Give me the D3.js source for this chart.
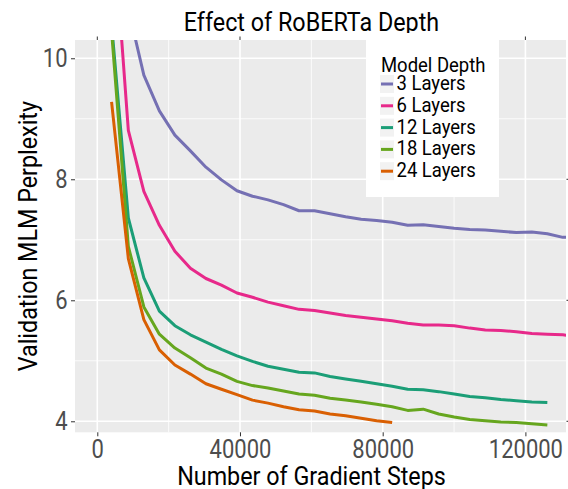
<!DOCTYPE html>
<html>
<head>
<meta charset="utf-8">
<script src="https://cdn.jsdelivr.net/npm/d3@7"></script>
<style>
  html, body { margin: 0; padding: 0; background: #fff; }
  svg { display: block; font-family: Roboto, "Noto Sans", sans-serif; }
</style>
</head>
<body>
<svg id="chart" width="568" height="489"></svg>
<script>
// ---- data ----
const steps = [4000, 8700, 13050, 17400, 21750, 26100, 30450, 34800, 39150, 43500,
  47850, 52200, 56550, 60900, 65250, 69600, 73950, 78300, 82650, 87000,
  91350, 95700, 100050, 104400, 108750, 113100, 117450, 121800, 126150, 130500, 134850];

const layers3 = [13.5, 10.82, 9.72, 9.13, 8.73, 8.47, 8.20, 7.99, 7.81, 7.72, 7.66, 7.58,
  7.48, 7.48, 7.43, 7.38, 7.34, 7.32, 7.29, 7.24, 7.25, 7.22, 7.19, 7.17, 7.16, 7.14,
  7.12, 7.13, 7.10, 7.04, 7.04];
const layers6 = [12.58, 8.81, 7.80, 7.24, 6.81, 6.53, 6.36, 6.25, 6.12, 6.05, 5.97, 5.91,
  5.85, 5.83, 5.79, 5.75, 5.72, 5.69, 5.66, 5.62, 5.59, 5.59, 5.58, 5.54, 5.51, 5.50,
  5.48, 5.45, 5.44, 5.43, 5.40];
const layers12 = [10.57, 7.36, 6.37, 5.82, 5.58, 5.43, 5.31, 5.19, 5.08, 4.99, 4.91, 4.86,
  4.81, 4.80, 4.74, 4.70, 4.66, 4.62, 4.58, 4.53, 4.52, 4.49, 4.45, 4.41, 4.39, 4.36,
  4.34, 4.32, 4.31];
const layers18 = [10.45, 6.89, 5.89, 5.44, 5.21, 5.05, 4.88, 4.78, 4.66, 4.59, 4.55, 4.50,
  4.45, 4.43, 4.38, 4.35, 4.32, 4.28, 4.24, 4.18, 4.20, 4.12, 4.07, 4.03, 4.01, 3.99,
  3.98, 3.96, 3.94];
const layers24 = [9.28, 6.69, 5.68, 5.18, 4.93, 4.78, 4.62, 4.53, 4.44, 4.35, 4.30, 4.24,
  4.19, 4.17, 4.12, 4.09, 4.05, 4.01, 3.98];

const seriesNames = ["3 Layers", "6 Layers", "12 Layers", "18 Layers", "24 Layers"];
const seriesValues = [layers3, layers6, layers12, layers18, layers24];
const seriesColors = ["#7570B3", "#E7298A", "#1B9E77", "#66A61E", "#D95F02"];

const xTicks = [0, 40000, 80000, 120000];
const xMinor = [20000, 60000, 100000];
const yTicks = [4, 6, 8, 10];
const yMinor = [5, 7, 9];

const titleText = "Effect of RoBERTa Depth";
const xTitle = "Number of Gradient Steps";
const yTitle = "Validation MLM Perplexity";
const legendTitle = "Model Depth";

// ---- layout ----
const panel = { left: 75, right: 566, top: 40, bottom: 432.3 };
const condense = 0.88;   // emulate a condensed face
const svg = d3.select("#chart");

const x = d3.scaleLinear().domain([-6250, 131380]).range([panel.left, panel.right]);
const y = d3.scaleLinear().domain([3.818, 10.302]).range([panel.bottom, panel.top]);

// panel background
svg.append("rect")
  .attr("x", panel.left).attr("y", panel.top)
  .attr("width", panel.right - panel.left).attr("height", panel.bottom - panel.top)
  .attr("fill", "#EBEBEB");

// grid
const grid = svg.append("g");
grid.selectAll(".xminor").data(xMinor).enter().append("line")
  .attr("x1", d => x(d)).attr("x2", d => x(d))
  .attr("y1", panel.top).attr("y2", panel.bottom)
  .attr("stroke", "#fff").attr("stroke-width", 0.8);
grid.selectAll(".yminor").data(yMinor).enter().append("line")
  .attr("y1", d => y(d)).attr("y2", d => y(d))
  .attr("x1", panel.left).attr("x2", panel.right)
  .attr("stroke", "#fff").attr("stroke-width", 0.8);
grid.selectAll(".xmajor").data(xTicks).enter().append("line")
  .attr("x1", d => x(d)).attr("x2", d => x(d))
  .attr("y1", panel.top).attr("y2", panel.bottom)
  .attr("stroke", "#fff").attr("stroke-width", 1.6);
grid.selectAll(".ymajor").data(yTicks).enter().append("line")
  .attr("y1", d => y(d)).attr("y2", d => y(d))
  .attr("x1", panel.left).attr("x2", panel.right)
  .attr("stroke", "#fff").attr("stroke-width", 1.6);

// clip
svg.append("clipPath").attr("id", "clip").append("rect")
  .attr("x", panel.left).attr("y", panel.top)
  .attr("width", panel.right - panel.left).attr("height", panel.bottom - panel.top);

const line = d3.line().x(d => x(d[0])).y(d => y(d[1]));
const lines = svg.append("g").attr("clip-path", "url(#clip)");
seriesValues.forEach((vals, i) => {
  const pts = vals.map((v, j) => [steps[j], v]);
  lines.append("path")
    .datum(pts)
    .attr("d", line)
    .attr("fill", "none")
    .attr("stroke", seriesColors[i])
    .attr("stroke-width", 3)
    .attr("stroke-linejoin", "round");
});

// axes
const yAxis = svg.append("g")
  .attr("transform", `translate(${panel.left},0)`)
  .call(d3.axisLeft(y).tickValues(yTicks).tickSize(4).tickPadding(3.5).tickFormat(d3.format("d")));
const xAxis = svg.append("g")
  .attr("transform", `translate(0,${panel.bottom})`)
  .call(d3.axisBottom(x).tickValues(xTicks).tickSize(4).tickPadding(3.5).tickFormat(d3.format("d")));
[xAxis, yAxis].forEach(a => {
  a.select(".domain").remove();
  a.selectAll(".tick line").attr("stroke", "#333").attr("stroke-width", 1);
  a.selectAll(".tick text")
    .attr("fill", "#4D4D4D")
    .style("font-family", "Roboto, sans-serif")
    .style("font-size", "25px");
});
xAxis.selectAll(".tick text").attr("transform", `scale(${condense},1)`);
yAxis.selectAll(".tick text")
  .attr("x", -7.5 / condense)
  .attr("transform", `scale(${condense},1)`);

// stray ticks from neighbouring panels (cropped figure)
svg.append("g").selectAll("line").data(xTicks).enter().append("line")
  .attr("x1", d => x(d)).attr("x2", d => x(d))
  .attr("y1", panel.top - 3.5).attr("y2", panel.top)
  .attr("stroke", "#333").attr("stroke-width", 1);
svg.append("g").selectAll("line").data(yTicks.slice(0, 3)).enter().append("line")
  .attr("x1", panel.right + 0.5).attr("x2", 568)
  .attr("y1", d => y(d)).attr("y2", d => y(d))
  .attr("stroke", "#555").attr("stroke-width", 1.2);

// titles (condensed look)
function cText(tx, ty, rot, size, str) {
  svg.append("text")
    .attr("transform", `translate(${tx},${ty}) rotate(${rot}) scale(${condense},1)`)
    .attr("text-anchor", "middle")
    .style("font-size", size + "px").attr("fill", "#000")
    .text(str);
}
cText(311.5, 31, 0, 26.5, titleText);
cText(311.5, 485, 0, 26.5, xTitle);
cText(37, (panel.top + panel.bottom) / 2, -90, 26.5, yTitle);

// legend
const lg = svg.append("g");
lg.append("rect")
  .attr("x", 366).attr("y", 33).attr("width", 133).attr("height", 164)
  .attr("fill", "#fff");
lg.append("text")
  .attr("transform", `translate(381,71.7) scale(${condense},1)`)
  .style("font-size", "21px").attr("fill", "#000")
  .text(legendTitle);
seriesNames.forEach((name, i) => {
  const base = 90 + i * 21.8;
  lg.append("rect")
    .attr("x", 380).attr("y", base - 15).attr("width", 14).attr("height", 18)
    .attr("fill", "#F2F2F2");
  lg.append("line")
    .attr("x1", 381).attr("x2", 393)
    .attr("y1", base - 6).attr("y2", base - 6)
    .attr("stroke", seriesColors[i]).attr("stroke-width", 3);
  lg.append("text")
    .attr("transform", `translate(396.5,${base}) scale(${condense},1)`)
    .style("font-size", "21px").attr("fill", "#000")
    .text(name);
});
</script>
</body>
</html>
